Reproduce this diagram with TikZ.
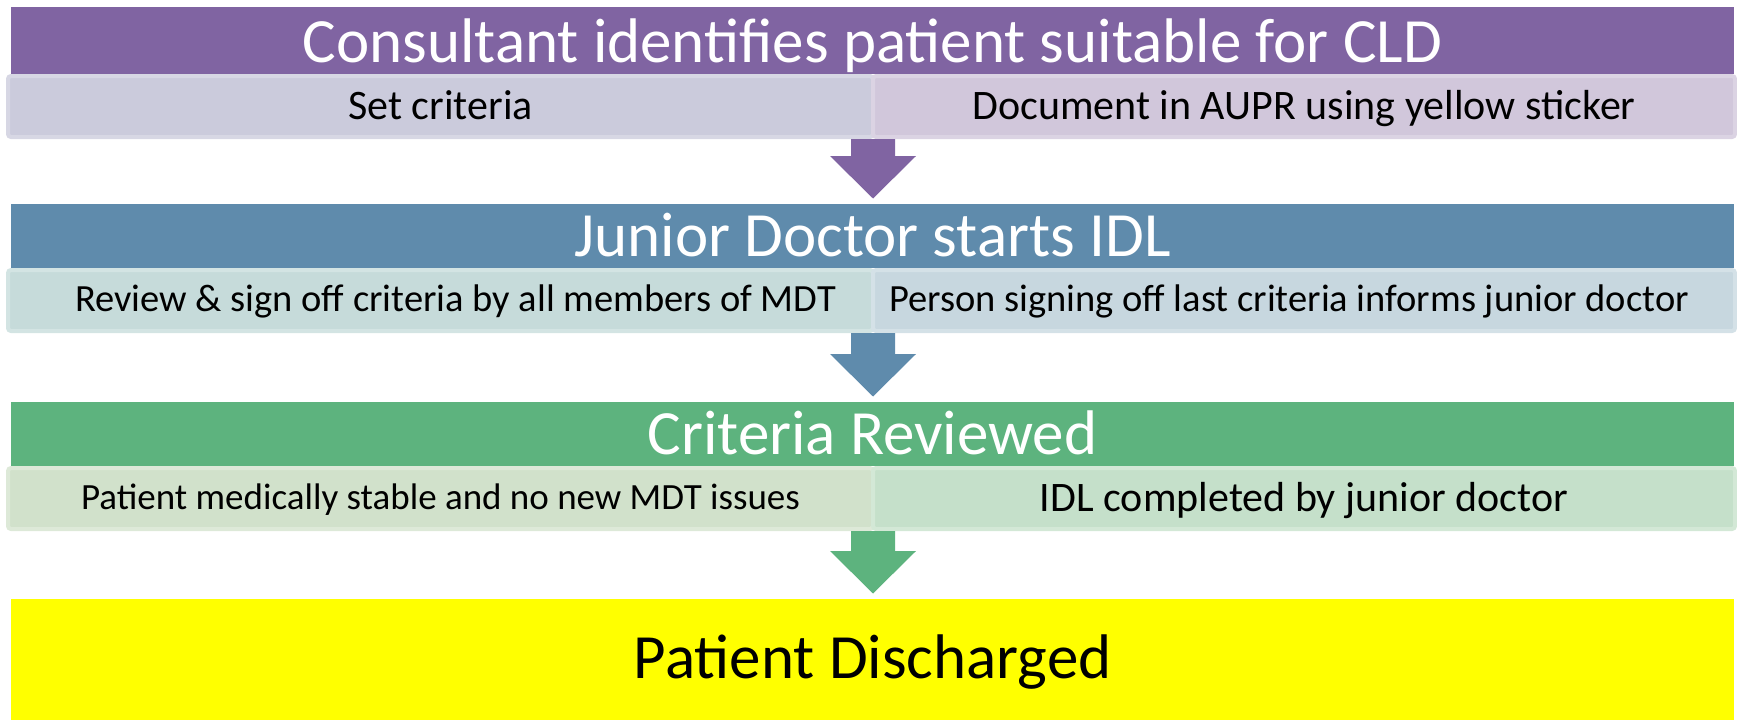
\documentclass[tikz,border=0pt]{standalone}
\usepackage{fontspec}
\setmainfont{Carlito}
\usetikzlibrary{calc}
\definecolor{purpH}{HTML}{8064A2}
\definecolor{purpL}{HTML}{CBCBDC}
\definecolor{purpLb}{HTML}{D7D7E4}
\definecolor{purpR}{HTML}{D1C7DB}
\definecolor{purpRb}{HTML}{DBD3E3}
\definecolor{blueH}{HTML}{5F8BAC}
\definecolor{blueL}{HTML}{C6DBDA}
\definecolor{blueLb}{HTML}{D3E4E3}
\definecolor{blueR}{HTML}{C7D7DF}
\definecolor{blueRb}{HTML}{D4E1E7}
\definecolor{greenH}{HTML}{5DB37E}
\definecolor{greenL}{HTML}{D1E1CB}
\definecolor{greenLb}{HTML}{DDE9D8}
\definecolor{greenR}{HTML}{C5E0CA}
\definecolor{greenRb}{HTML}{D3E8D6}
\definecolor{yell}{HTML}{FFFF00}
\begin{document}
\begin{tikzpicture}[x=1pt,y=1pt,
  hdr/.style={rectangle, inner sep=0pt, outer sep=0pt, anchor=north west,
    minimum width=1723pt, text=white, font=\fontsize{63}{63}\selectfont,
    text depth=12pt, text height=52pt},
  subbox/.style={rectangle, inner sep=0pt, outer sep=0pt, anchor=north west,
    line width=4pt, rounded corners=3pt, text=black,
    font=\fontsize{42}{42}\selectfont, text height=43.5pt, text depth=17.5pt},
  smalltext/.style={font=\fontsize{38.5}{38.5}\selectfont, text height=41pt, text depth=20pt},
  blockarrow/.style={fill=#1}
]
\useasboundingbox (0,0) rectangle (1737,-720);

% Row 1
\node[hdr, fill=purpH, text height=55pt] (h1) at (11,-7) {Consultant identifies patient suitable for CLD};
\node[subbox, fill=purpL, draw=purpLb, minimum width=865pt] (s1l) at (8,-76) {Set criteria};
\node[subbox, fill=purpR, draw=purpRb, minimum width=862pt] (s1r) at (873,-76) {Document in AUPR using yellow sticker};

% Row 2
\node[hdr, fill=blueH] (h2) at (11,-204) {Junior Doctor starts IDL};
\node[subbox, smalltext, fill=blueL, draw=blueLb, minimum width=865pt] (s2l) at (8,-270) {\hspace*{30pt}Review \& sign off criteria by all members of MDT};
\node[subbox, smalltext, fill=blueR, draw=blueRb, minimum width=862pt] (s2r) at (873,-270) {Person signing off last criteria informs junior doctor\hspace*{30pt}};

% Row 3
\node[hdr, fill=greenH] (h3) at (11,-402) {Criteria Reviewed};
\node[subbox, smalltext, font=\fontsize{37}{37}\selectfont, fill=greenL, draw=greenLb, minimum width=865pt] (s3l) at (8,-468) {Patient medically stable and no new MDT issues};
\node[subbox, fill=greenR, draw=greenRb, minimum width=862pt] (s3r) at (873,-468) {IDL completed by junior doctor};

% Final
\node[rectangle, inner sep=0pt, anchor=north west, minimum width=1723pt, fill=yell,
  text=black, font=\fontsize{63}{63}\selectfont, text height=79pt, text depth=42pt] (h4) at (11,-599) {Patient Discharged};

% Block arrows
\foreach \a/\b/\c in {s1l/h2/purpH, s2l/h3/blueH, s3l/h4/greenH}{
  \fill[blockarrow=\c] let \p1=(\a.south east), \p2=(\b.north) in
    (\x1-22pt,\y1-2pt) -- (\x1+22pt,\y1-2pt) -- (\x1+22pt,\y2+48pt) -- (\x1+43pt,\y2+48pt)
    -- (\x1,\y2+5.5pt) -- (\x1-43pt,\y2+48pt) -- (\x1-22pt,\y2+48pt) -- cycle;
}
\end{tikzpicture}
\end{document}
